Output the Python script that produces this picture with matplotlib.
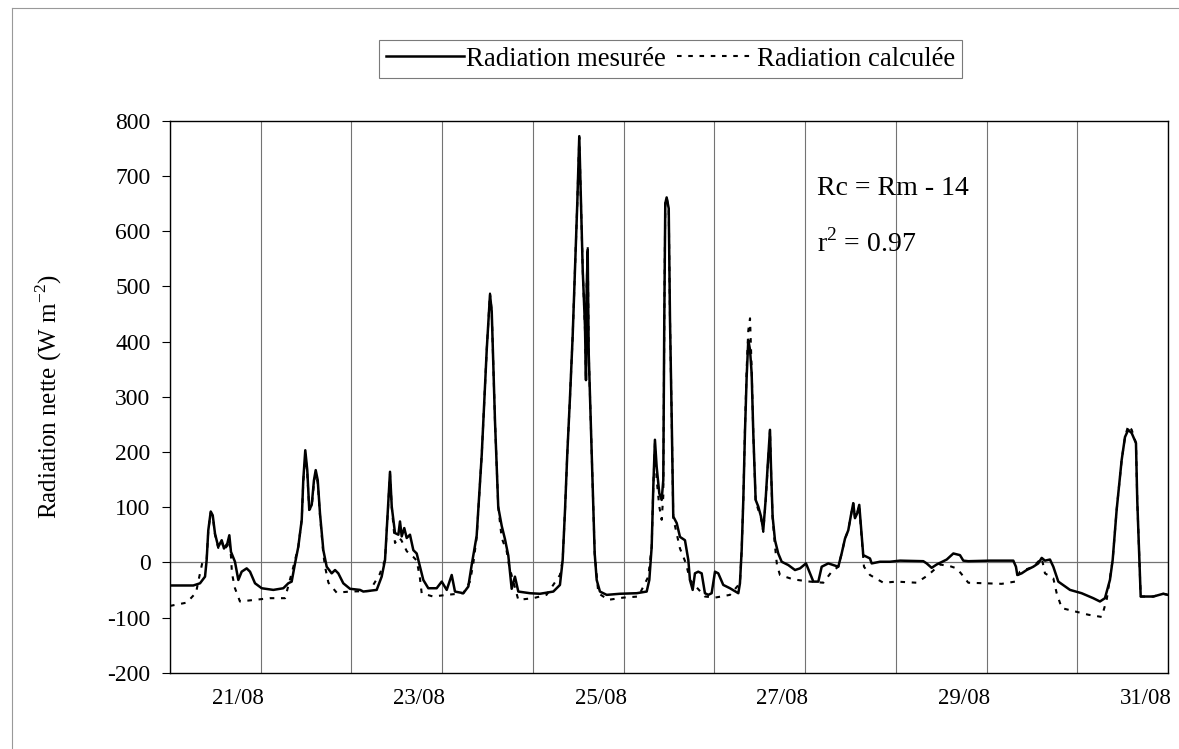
import matplotlib
matplotlib.use("Agg")
import matplotlib.pyplot as plt
from matplotlib.lines import Line2D

plt.rcParams['font.family'] = ['Liberation Serif', 'DejaVu Serif']
plt.rcParams['mathtext.fontset'] = 'custom'
plt.rcParams['mathtext.rm'] = 'Liberation Serif'
plt.rcParams['axes.unicode_minus'] = False

# ---- data (x in days from the first gridline, values in W m-2) ----
days_measured = [0.00, 0.257, 0.331, 0.386, 0.404, 0.422, 0.449, 0.471, 0.496, 0.532, 0.570, 0.595, 0.632, 0.654,
                 0.672, 0.716, 0.753, 0.790, 0.845, 0.882, 0.937, 1.011, 1.139, 1.249, 1.304, 1.341, 1.378, 1.414,
                 1.452, 1.469, 1.491, 1.513, 1.535, 1.562, 1.587, 1.606, 1.628, 1.653, 1.690, 1.727, 1.782, 1.819,
                 1.855, 1.910, 1.984, 2.094, 2.131, 2.278, 2.333, 2.370, 2.395, 2.425, 2.444, 2.480, 2.517, 2.535,
                 2.554, 2.582, 2.609, 2.645, 2.682, 2.719, 2.755, 2.792, 2.847, 2.939, 2.995, 3.050, 3.105, 3.141,
                 3.233, 3.288, 3.325, 3.380, 3.436, 3.491, 3.527, 3.546, 3.582, 3.618, 3.656, 3.692, 3.729, 3.766,
                 3.802, 3.839, 3.968, 4.078, 4.225, 4.298, 4.328, 4.354, 4.379, 4.409, 4.438, 4.464, 4.489, 4.511,
                 4.527, 4.549, 4.574, 4.585, 4.593, 4.604, 4.615, 4.637, 4.659, 4.681, 4.703, 4.739, 4.813, 4.960,
                 5.144, 5.254, 5.283, 5.309, 5.327, 5.345, 5.364, 5.393, 5.419, 5.437, 5.448, 5.459, 5.474, 5.497,
                 5.511, 5.530, 5.547, 5.585, 5.621, 5.676, 5.713, 5.731, 5.761, 5.786, 5.822, 5.860, 5.896, 5.933,
                 5.970, 6.007, 6.043, 6.098, 6.172, 6.264, 6.282, 6.301, 6.319, 6.337, 6.356, 6.374, 6.393, 6.411,
                 6.429, 6.455, 6.484, 6.514, 6.539, 6.565, 6.587, 6.613, 6.624, 6.642, 6.668, 6.704, 6.742, 6.815,
                 6.889, 6.944, 7.010, 7.054, 7.091, 7.146, 7.183, 7.256, 7.311, 7.366, 7.403, 7.440, 7.476, 7.503,
                 7.531, 7.550, 7.575, 7.597, 7.616, 7.641, 7.679, 7.715, 7.734, 7.825, 7.936, 8.046, 8.303, 8.340,
                 8.395, 8.450, 8.561, 8.634, 8.707, 8.744, 8.799, 9.038, 9.295, 9.324, 9.339, 9.387, 9.442, 9.515,
                 9.570, 9.608, 9.644, 9.699, 9.736, 9.791, 9.920, 10.048, 10.176, 10.250, 10.305, 10.360, 10.390,
                 10.434, 10.489, 10.526, 10.562, 10.600, 10.647, 10.661, 10.683, 10.699, 10.838, 10.948, 11.0]
rad_measured = [-42, -42, -38, -26, 4, 58, 92, 85, 52, 28, 40, 25, 34, 49,
                19, 1, -32, -17, -11, -17, -38, -47, -50, -47, -38, -35, -2, 28,
                77, 149, 203, 167, 95, 104, 149, 167, 149, 89, 22, -8, -20, -14,
                -20, -38, -48, -50, -53, -50, -26, 4, 77, 164, 101, 53, 50, 74,
                47, 62, 44, 50, 22, 16, -8, -32, -47, -47, -35, -50, -23, -53,
                -56, -44, -5, 48, 195, 385, 485, 455, 256, 100, 66, 42, 12, -48,
                -26, -53, -56, -57, -53, -41, 4, 95, 197, 300, 409, 530, 650, 772,
                668, 530, 427, 330, 499, 563, 379, 258, 137, 16, -32, -53, -59, -57,
                -56, -53, -32, 28, 137, 222, 173, 125, 113, 149, 439, 650, 661, 641,
                439, 258, 83, 71, 46, 40, 4, -32, -50, -20, -17, -20, -56, -59,
                -56, -17, -20, -41, -47, -56, -38, 22, 113, 234, 336, 403, 385, 342,
                234, 113, 101, 83, 58, 113, 173, 240, 173, 83, 40, 16, 1, -5,
                -14, -11, -2, -20, -35, -35, -8, -2, -5, -8, 16, 43, 58, 83,
                107, 80, 89, 104, 64, 13, 10, 7, -2, 1, 1, 3, 2, -2,
                -10, -4, 5, 16, 13, 3, 2, 3, 3, -8, -23, -20, -14, -8,
                -2, 8, 3, 5, -8, -35, -50, -56, -65, -71, -65, -32, 4,
                95, 185, 227, 240, 234, 216, 113, 10, -62, -62, -57, -59]

days_calc = [0.00, 0.185, 0.287, 0.323, 0.356, 0.404, 0.422, 0.449, 0.471, 0.496, 0.532, 0.570, 0.595, 0.632,
             0.654, 0.672, 0.683, 0.716, 0.771, 0.937, 1.102, 1.268, 1.312, 1.360, 1.414, 1.452, 1.469, 1.491,
             1.513, 1.535, 1.562, 1.587, 1.606, 1.628, 1.653, 1.690, 1.709, 1.746, 1.837, 1.984, 2.200, 2.310,
             2.370, 2.395, 2.425, 2.444, 2.480, 2.520, 2.550, 2.610, 2.680, 2.720, 2.755, 2.774, 2.900, 3.050,
             3.233, 3.306, 3.343, 3.380, 3.436, 3.491, 3.527, 3.546, 3.582, 3.618, 3.656, 3.711, 3.740, 3.839,
             4.003, 4.150, 4.298, 4.328, 4.354, 4.379, 4.409, 4.438, 4.464, 4.489, 4.511, 4.527, 4.549, 4.574,
             4.585, 4.593, 4.604, 4.615, 4.637, 4.659, 4.681, 4.721, 4.831, 4.996, 5.162, 5.272, 5.309, 5.327,
             5.345, 5.364, 5.393, 5.419, 5.437, 5.448, 5.459, 5.474, 5.497, 5.511, 5.530, 5.547, 5.621, 5.687,
             5.731, 5.896, 6.007, 6.172, 6.282, 6.301, 6.319, 6.337, 6.356, 6.374, 6.393, 6.411, 6.429, 6.455,
             6.484, 6.514, 6.539, 6.565, 6.587, 6.613, 6.624, 6.642, 6.668, 6.690, 6.723, 6.870, 7.054, 7.201,
             7.293, 7.366, 7.403, 7.440, 7.476, 7.503, 7.531, 7.550, 7.575, 7.597, 7.616, 7.649, 7.715, 7.862,
             8.009, 8.230, 8.358, 8.487, 8.597, 8.671, 8.718, 8.799, 8.983, 9.167, 9.313, 9.368, 9.515, 9.608,
             9.644, 9.736, 9.773, 9.829, 9.976, 10.122, 10.269, 10.324, 10.390, 10.434, 10.489, 10.526, 10.562,
             10.600, 10.647, 10.661, 10.683, 10.699, 10.838, 10.948, 11.0]
rad_calc = [-79, -73, -55, -26, -1, 4, 58, 90, 84, 50, 26, 38, 23, 30,
            40, 11, -20, -47, -71, -68, -65, -65, -38, -8, 28, 77, 145, 195,
            160, 95, 100, 145, 160, 145, 85, 15, -8, -37, -55, -53, -52, -22,
            4, 75, 160, 100, 35, 45, 40, 20, 10, 3, -29, -56, -62, -59,
            -56, -35, -2, 45, 195, 385, 487, 455, 256, 100, 44, 20, -8, -68,
            -65, -59, -23, 4, 95, 197, 300, 409, 530, 650, 770, 668, 530, 420,
            330, 499, 575, 379, 258, 137, 16, -56, -68, -64, -62, -26, 28, 137,
            215, 150, 101, 77, 120, 439, 650, 661, 641, 439, 258, 80, 25, -2,
            -32, -62, -64, -59, -38, 22, 113, 240, 350, 420, 442, 350, 234, 110,
            95, 80, 55, 110, 170, 240, 170, 80, 30, -5, -23, -31, -35, -37,
            -17, -8, 16, 43, 58, 83, 107, 80, 89, 104, 60, -8, -23, -37,
            -35, -37, -23, -4, -7, -11, -20, -37, -38, -39, -35, -17, -8, 8,
            -20, -29, -56, -83, -89, -95, -99, -68, 4, 95, 185, 227, 248,
            240, 216, 113, 10, -62, -62, -57, -59]

date_labels = ['21/08', '23/08', '25/08', '27/08', '29/08', '31/08']
label_days = [0.75, 2.75, 4.75, 6.75, 8.75, 10.75]
day_grid = list(range(0, 12))
y_ticks = [-200, -100, 0, 100, 200, 300, 400, 500, 600, 700, 800]

W, H = 1179, 749
fig = plt.figure(figsize=(W / 100, H / 100), dpi=100)
ax = fig.add_axes([170 / W, 1 - 672.7 / H, (1168 - 170) / W, (672.7 - 120.7) / H])

ax.plot(days_measured, rad_measured, color='black', lw=1.8, zorder=3, label='Radiation mesurée')
ax.plot(days_calc, rad_calc, color='black', lw=1.5, ls=(0, (2.2, 3.2)), zorder=4, label='Radiation calculée')

ax.set_xlim(0, 11)
ax.set_ylim(-200, 800)
ax.set_yticks(y_ticks)
ax.tick_params(axis='y', direction='out', length=6, width=0.8, labelsize=17, pad=8)

ax.set_xticks(day_grid)
ax.set_xticklabels([])
ax.set_xticks(label_days, minor=True)
ax.set_xticklabels(date_labels, minor=True)
ax.tick_params(axis='x', which='both', length=0, labelsize=16.5, pad=11)
ax.grid(axis='x', which='major', color='0.45', lw=0.8)
ax.axhline(0, color='0.45', lw=0.9, zorder=1)

for s in ax.spines.values():
    s.set_color('black')
    s.set_linewidth(1.0)

ax.set_ylabel('Radiation nette (W m$^{-2}$)', fontsize=18)
ax.yaxis.set_label_coords((64 - 170) / 998, 0.5)

ax.text(7.13, 678, 'Rc = Rm - 14', fontsize=20, va='center', ha='left')
ax.text(7.13, 578, 'r$^{2}$ = 0.97', fontsize=20, va='center', ha='left')

handles = [Line2D([], [], color='black', lw=1.8),
           Line2D([], [], color='black', lw=1.5, ls=(0, (2.2, 3.2)))]
leg = fig.legend(handles, ['Radiation mesurée', 'Radiation calculée'], loc='center',
                 bbox_to_anchor=((378 + 963) / 2 / W, 1 - 59 / H), ncol=2, fontsize=19.3,
                 frameon=True, fancybox=False, edgecolor='0.35', handlelength=2.9,
                 handletextpad=0.1, columnspacing=0.4, borderpad=0.25, borderaxespad=0)
leg.get_frame().set_linewidth(0.8)

# outer chart-area border
fig.add_artist(Line2D([12 / W, 1], [1 - 8 / H, 1 - 8 / H], color='0.6', lw=0.8))
fig.add_artist(Line2D([12 / W, 12 / W], [0, 1 - 8 / H], color='0.6', lw=0.8))

fig.savefig('out.png', dpi=100)
